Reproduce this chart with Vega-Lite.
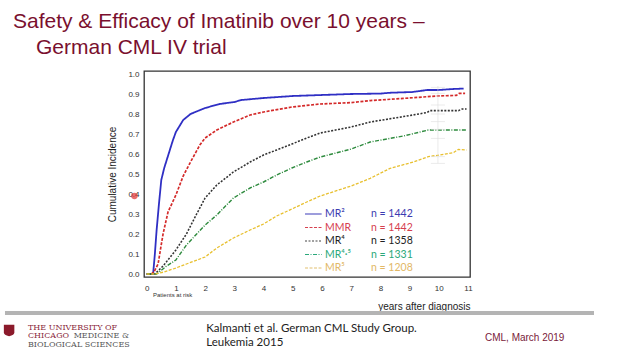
{
  "$schema": "https://vega.github.io/schema/vega-lite/v6.json",
  "width": 326,
  "height": 206,
  "autosize": "none",
  "padding": {"left": 144, "top": 71, "right": 150, "bottom": 83},
  "background": "white",
  "config": {
    "view": {"stroke": "#333333", "strokeWidth": 1.3},
    "font": "Liberation Sans",
    "text": {"font": "Liberation Sans"}
  },
  "datasets": {
    "curves": [
      {"series": "MR2", "year": 0, "value": 0}, {"series": "MR2", "year": 0.22, "value": 0}, {"series": "MR2", "year": 0.28, "value": 0.10}, {"series": "MR2", "year": 0.34, "value": 0.22}, {"series": "MR2", "year": 0.42, "value": 0.35}, {"series": "MR2", "year": 0.5, "value": 0.47}, {"series": "MR2", "year": 0.6, "value": 0.53}, {"series": "MR2", "year": 0.75, "value": 0.60}, {"series": "MR2", "year": 0.9, "value": 0.67}, {"series": "MR2", "year": 1.0, "value": 0.71}, {"series": "MR2", "year": 1.25, "value": 0.77}, {"series": "MR2", "year": 1.5, "value": 0.80}, {"series": "MR2", "year": 1.75, "value": 0.815}, {"series": "MR2", "year": 2.0, "value": 0.83}, {"series": "MR2", "year": 2.5, "value": 0.85}, {"series": "MR2", "year": 3.0, "value": 0.86}, {"series": "MR2", "year": 3.25, "value": 0.87}, {"series": "MR2", "year": 4.0, "value": 0.88}, {"series": "MR2", "year": 5.0, "value": 0.89}, {"series": "MR2", "year": 6.0, "value": 0.895}, {"series": "MR2", "year": 7.0, "value": 0.9}, {"series": "MR2", "year": 8.0, "value": 0.902}, {"series": "MR2", "year": 8.3, "value": 0.906}, {"series": "MR2", "year": 9.1, "value": 0.91}, {"series": "MR2", "year": 9.6, "value": 0.92}, {"series": "MR2", "year": 10.0, "value": 0.92}, {"series": "MR2", "year": 10.5, "value": 0.925}, {"series": "MR2", "year": 10.85, "value": 0.927},
      {"series": "MMR", "year": 0, "value": 0}, {"series": "MMR", "year": 0.16, "value": 0}, {"series": "MMR", "year": 0.25, "value": 0.01}, {"series": "MMR", "year": 0.39, "value": 0.05}, {"series": "MMR", "year": 0.56, "value": 0.20}, {"series": "MMR", "year": 0.73, "value": 0.31}, {"series": "MMR", "year": 1.0, "value": 0.395}, {"series": "MMR", "year": 1.25, "value": 0.49}, {"series": "MMR", "year": 1.5, "value": 0.56}, {"series": "MMR", "year": 1.82, "value": 0.645}, {"series": "MMR", "year": 2.0, "value": 0.68}, {"series": "MMR", "year": 2.4, "value": 0.72}, {"series": "MMR", "year": 2.97, "value": 0.76}, {"series": "MMR", "year": 3.54, "value": 0.795}, {"series": "MMR", "year": 4.0, "value": 0.81}, {"series": "MMR", "year": 4.97, "value": 0.835}, {"series": "MMR", "year": 5.94, "value": 0.85}, {"series": "MMR", "year": 7.0, "value": 0.857}, {"series": "MMR", "year": 7.65, "value": 0.867}, {"series": "MMR", "year": 8.79, "value": 0.878}, {"series": "MMR", "year": 9.93, "value": 0.89}, {"series": "MMR", "year": 10.6, "value": 0.893}, {"series": "MMR", "year": 10.7, "value": 0.903}, {"series": "MMR", "year": 10.9, "value": 0.903},
      {"series": "MR4", "year": 0, "value": 0}, {"series": "MR4", "year": 0.28, "value": 0}, {"series": "MR4", "year": 0.56, "value": 0.04}, {"series": "MR4", "year": 1.0, "value": 0.12}, {"series": "MR4", "year": 1.36, "value": 0.20}, {"series": "MR4", "year": 1.71, "value": 0.30}, {"series": "MR4", "year": 2.0, "value": 0.38}, {"series": "MR4", "year": 2.4, "value": 0.445}, {"series": "MR4", "year": 2.97, "value": 0.51}, {"series": "MR4", "year": 3.54, "value": 0.56}, {"series": "MR4", "year": 4.0, "value": 0.595}, {"series": "MR4", "year": 4.45, "value": 0.62}, {"series": "MR4", "year": 4.97, "value": 0.65}, {"series": "MR4", "year": 5.48, "value": 0.68}, {"series": "MR4", "year": 5.94, "value": 0.705}, {"series": "MR4", "year": 7.0, "value": 0.735}, {"series": "MR4", "year": 7.65, "value": 0.76}, {"series": "MR4", "year": 8.79, "value": 0.787}, {"series": "MR4", "year": 9.59, "value": 0.807}, {"series": "MR4", "year": 9.7, "value": 0.817}, {"series": "MR4", "year": 10.67, "value": 0.817}, {"series": "MR4", "year": 10.8, "value": 0.825}, {"series": "MR4", "year": 10.95, "value": 0.825},
      {"series": "MR45", "year": 0, "value": 0}, {"series": "MR45", "year": 0.34, "value": 0}, {"series": "MR45", "year": 0.68, "value": 0.04}, {"series": "MR45", "year": 1.0, "value": 0.07}, {"series": "MR45", "year": 1.36, "value": 0.145}, {"series": "MR45", "year": 1.71, "value": 0.20}, {"series": "MR45", "year": 2.0, "value": 0.245}, {"series": "MR45", "year": 2.4, "value": 0.295}, {"series": "MR45", "year": 2.97, "value": 0.38}, {"series": "MR45", "year": 3.54, "value": 0.43}, {"series": "MR45", "year": 4.0, "value": 0.46}, {"series": "MR45", "year": 4.45, "value": 0.495}, {"series": "MR45", "year": 4.97, "value": 0.53}, {"series": "MR45", "year": 5.48, "value": 0.56}, {"series": "MR45", "year": 5.94, "value": 0.585}, {"series": "MR45", "year": 7.0, "value": 0.625}, {"series": "MR45", "year": 7.65, "value": 0.66}, {"series": "MR45", "year": 8.79, "value": 0.69}, {"series": "MR45", "year": 9.64, "value": 0.72}, {"series": "MR45", "year": 10.95, "value": 0.72},
      {"series": "MR5", "year": 0, "value": 0}, {"series": "MR5", "year": 0.28, "value": 0}, {"series": "MR5", "year": 0.6, "value": 0.01}, {"series": "MR5", "year": 1.0, "value": 0.03}, {"series": "MR5", "year": 1.36, "value": 0.05}, {"series": "MR5", "year": 2.0, "value": 0.085}, {"series": "MR5", "year": 2.4, "value": 0.13}, {"series": "MR5", "year": 2.97, "value": 0.18}, {"series": "MR5", "year": 3.54, "value": 0.22}, {"series": "MR5", "year": 4.0, "value": 0.25}, {"series": "MR5", "year": 4.45, "value": 0.29}, {"series": "MR5", "year": 4.97, "value": 0.325}, {"series": "MR5", "year": 5.48, "value": 0.36}, {"series": "MR5", "year": 5.94, "value": 0.39}, {"series": "MR5", "year": 7.0, "value": 0.44}, {"series": "MR5", "year": 7.65, "value": 0.478}, {"series": "MR5", "year": 8.33, "value": 0.528}, {"series": "MR5", "year": 9.13, "value": 0.56}, {"series": "MR5", "year": 9.64, "value": 0.587}, {"series": "MR5", "year": 10.04, "value": 0.595}, {"series": "MR5", "year": 10.5, "value": 0.607}, {"series": "MR5", "year": 10.67, "value": 0.623}, {"series": "MR5", "year": 10.95, "value": 0.62}
    ],
    "legend": [
      {"series": "MR2", "label": "MR²", "n": "n = 1442"},
      {"series": "MMR", "label": "MMR", "n": "n = 1442"},
      {"series": "MR4", "label": "MR⁴", "n": "n = 1358"},
      {"series": "MR45", "label": "MR⁴·⁵", "n": "n = 1331"},
      {"series": "MR5", "label": "MR⁵", "n": "n = 1208"}
    ],
    "ci": [{"ci": 0.933}, {"ci": 0.903}, {"ci": 0.845}, {"ci": 0.8}, {"ci": 0.762}, {"ci": 0.723}, {"ci": 0.678}, {"ci": 0.587}, {"ci": 0.553}],
    "cirange": [{"lo": 0.553, "hi": 0.94}],
    "one": [{}]
  },
  "resolve": {"scale": {"color": "independent"}, "axis": {"x": "independent", "y": "independent"}},
  "layer": [
    {
      "data": {"name": "curves"},
      "mark": {"type": "line", "clip": true},
      "encoding": {
        "x": {
          "field": "year", "type": "quantitative",
          "scale": {"domain": [-0.092, 11.068], "nice": false, "zero": false},
          "axis": {
            "values": [0, 1, 2, 3, 4, 5, 6, 7, 8, 9, 10, 11], "format": "d", "labelOverlap": false,
            "ticks": false, "domain": false, "grid": false,
            "labelFontSize": 8, "labelColor": "#333333", "labelPadding": 7,
            "title": "years after diagnosis", "titleAnchor": "end", "titleFontSize": 10,
            "titleFontWeight": "normal", "titleColor": "#222222", "titlePadding": 9
          }
        },
        "y": {
          "field": "value", "type": "quantitative",
          "scale": {"domain": [-0.015, 1.015], "nice": false, "zero": false},
          "axis": {
            "values": [0, 0.1, 0.2, 0.3, 0.4, 0.5, 0.6, 0.7, 0.8, 0.9, 1.0], "format": ".1f", "labelOverlap": false,
            "ticks": false, "domain": false, "grid": false,
            "labelFontSize": 8, "labelColor": "#333333", "labelPadding": 5,
            "title": "Cumulative Incidence", "titleFontSize": 10, "titleFontWeight": "normal",
            "titleColor": "#222222", "titlePadding": 10
          }
        },
        "color": {
          "field": "series", "type": "nominal", "legend": null,
          "scale": {"domain": ["MR2", "MMR", "MR4", "MR45", "MR5"], "range": ["#2f2fc4", "#d42a2a", "#333333", "#2e8b3e", "#e8c030"]}
        },
        "strokeDash": {
          "field": "series", "type": "nominal", "legend": null,
          "scale": {"domain": ["MR2", "MMR", "MR4", "MR45", "MR5"], "range": [[1, 0], [3, 1.5], [2, 1.5], [4, 1.5, 1, 1.5], [3, 1.5]]}
        },
        "size": {
          "field": "series", "type": "nominal", "legend": null,
          "scale": {"domain": ["MR2", "MMR", "MR4", "MR45", "MR5"], "range": [1.8, 1.3, 1.2, 1.2, 1.3]}
        }
      }
    },
    {
      "data": {"name": "cirange"},
      "mark": {"type": "rule", "color": "#dddddd", "strokeWidth": 1, "opacity": 0.6},
      "encoding": {
        "x": {"datum": 9.97, "type": "quantitative", "axis": null},
        "y": {"field": "lo", "type": "quantitative", "axis": null},
        "y2": {"field": "hi"}
      }
    },
    {
      "data": {"name": "ci"},
      "mark": {"type": "rule", "color": "#dddddd", "strokeWidth": 1, "opacity": 0.6},
      "encoding": {
        "x": {"datum": 9.73, "type": "quantitative", "axis": null},
        "x2": {"datum": 10.21},
        "y": {"field": "ci", "type": "quantitative", "axis": null}
      }
    },
    {
      "data": {"name": "legend"},
      "mark": {"type": "rule", "strokeWidth": 1.2},
      "encoding": {
        "x": {"datum": 5.42, "type": "quantitative", "axis": null},
        "x2": {"datum": 5.99},
        "y": {"datum": 0.30, "type": "quantitative", "axis": null},
        "yOffset": {"field": "series", "type": "nominal", "scale": {"type": "point", "domain": ["MR2", "MMR", "MR4", "MR45", "MR5"], "range": [0, 54], "padding": 0}},
        "color": {
          "field": "series", "type": "nominal", "legend": null,
          "scale": {"domain": ["MR2", "MMR", "MR4", "MR45", "MR5"], "range": ["#3b3bb8", "#d6404f", "#444444", "#2aa87a", "#e2c070"]}
        },
        "strokeDash": {
          "field": "series", "type": "nominal", "legend": null,
          "scale": {"domain": ["MR2", "MMR", "MR4", "MR45", "MR5"], "range": [[1, 0], [2, 1.5], [2, 1], [4, 2, 1, 2], [2, 1.5]]}
        }
      }
    },
    {
      "data": {"name": "legend"},
      "mark": {"type": "text", "align": "left", "baseline": "middle", "fontSize": 10.5, "font": "Lato"},
      "encoding": {
        "x": {"datum": 6.1, "type": "quantitative", "axis": null},
        "y": {"datum": 0.30, "type": "quantitative", "axis": null},
        "yOffset": {"field": "series", "type": "nominal", "scale": {"type": "point", "domain": ["MR2", "MMR", "MR4", "MR45", "MR5"], "range": [0, 54], "padding": 0}},
        "text": {"field": "label"},
        "color": {
          "field": "series", "type": "nominal", "legend": null,
          "scale": {"domain": ["MR2", "MMR", "MR4", "MR45", "MR5"], "range": ["#3b3bb0", "#d6404f", "#222222", "#2aa87a", "#e2b866"]}
        }
      }
    },
    {
      "data": {"name": "legend"},
      "mark": {"type": "text", "align": "left", "baseline": "middle", "fontSize": 10.5, "font": "Lato"},
      "encoding": {
        "x": {"datum": 7.68, "type": "quantitative", "axis": null},
        "y": {"datum": 0.30, "type": "quantitative", "axis": null},
        "yOffset": {"field": "series", "type": "nominal", "scale": {"type": "point", "domain": ["MR2", "MMR", "MR4", "MR45", "MR5"], "range": [0, 54], "padding": 0}},
        "text": {"field": "n"},
        "color": {
          "field": "series", "type": "nominal", "legend": null,
          "scale": {"domain": ["MR2", "MMR", "MR4", "MR45", "MR5"], "range": ["#3b3bb0", "#d6404f", "#222222", "#2aa87a", "#e2b866"]}
        }
      }
    },
    {
      "data": {"name": "one"},
      "mark": {"type": "text", "text": "Safety & Efficacy of Imatinib over 10 years –", "align": "left", "baseline": "alphabetic", "fontSize": 21, "color": "#7a0f2e"},
      "encoding": {"x": {"datum": -4.577, "type": "quantitative", "axis": null}, "y": {"datum": 1.2285, "type": "quantitative", "axis": null}}
    },
    {
      "data": {"name": "one"},
      "mark": {"type": "text", "text": "German CML IV trial", "align": "left", "baseline": "alphabetic", "fontSize": 21, "color": "#7a0f2e"},
      "encoding": {"x": {"datum": -3.79, "type": "quantitative", "axis": null}, "y": {"datum": 1.0985, "type": "quantitative", "axis": null}}
    },
    {
      "data": {"name": "one"},
      "mark": {"type": "text", "text": "Patients at risk", "align": "left", "baseline": "middle", "fontSize": 6, "color": "#333333"},
      "encoding": {"x": {"datum": 0.216, "type": "quantitative", "axis": null}, "y": {"datum": -0.105, "type": "quantitative", "axis": null}}
    },
    {
      "data": {"name": "one"},
      "mark": {"type": "point", "filled": true, "color": "#e03030", "opacity": 0.7, "size": 40},
      "encoding": {"x": {"datum": -0.42, "type": "quantitative", "axis": null}, "y": {"datum": 0.39, "type": "quantitative", "axis": null}}
    },
    {
      "data": {"name": "one"},
      "mark": {"type": "rule", "color": "#b4b4b4", "strokeWidth": 4},
      "encoding": {"x": {"datum": -4.851, "type": "quantitative", "axis": null}, "x2": {"datum": 15.313}, "y": {"datum": -0.195, "type": "quantitative", "axis": null}}
    },
    {
      "data": {"name": "one"},
      "mark": {"type": "point", "filled": true, "color": "#8b1a2b", "opacity": 1, "size": 110, "shape": "M-1,-1.1L1,-1.1L1,0.4Q1,0.9 0,1.1Q-1,0.9 -1,0.4Z"},
      "encoding": {"x": {"datum": -4.71, "type": "quantitative", "axis": null}, "y": {"datum": -0.2825, "type": "quantitative", "axis": null}}
    },
    {
      "data": {"name": "one"},
      "mark": {"type": "text", "text": "THE UNIVERSITY OF", "align": "left", "baseline": "middle", "fontSize": 8, "font": "DejaVu Serif", "color": "#8a1f3a"},
      "encoding": {"x": {"datum": -4.064, "type": "quantitative", "axis": null}, "y": {"datum": -0.2675, "type": "quantitative", "axis": null}}
    },
    {
      "data": {"name": "one"},
      "mark": {"type": "text", "text": "CHICAGO", "align": "left", "baseline": "middle", "fontSize": 8, "font": "DejaVu Serif", "color": "#8a1f3a"},
      "encoding": {"x": {"datum": -4.064, "type": "quantitative", "axis": null}, "y": {"datum": -0.31, "type": "quantitative", "axis": null}}
    },
    {
      "data": {"name": "one"},
      "mark": {"type": "text", "text": "MEDICINE &", "align": "left", "baseline": "middle", "fontSize": 8, "font": "DejaVu Serif", "color": "#555555"},
      "encoding": {"x": {"datum": -2.5, "type": "quantitative", "axis": null}, "y": {"datum": -0.31, "type": "quantitative", "axis": null}}
    },
    {
      "data": {"name": "one"},
      "mark": {"type": "text", "text": "BIOLOGICAL SCIENCES", "align": "left", "baseline": "middle", "fontSize": 8, "font": "DejaVu Serif", "color": "#555555"},
      "encoding": {"x": {"datum": -4.064, "type": "quantitative", "axis": null}, "y": {"datum": -0.355, "type": "quantitative", "axis": null}}
    },
    {
      "data": {"name": "one"},
      "mark": {"type": "text", "text": "Kalmanti et al. German CML Study Group.", "align": "left", "baseline": "middle", "fontSize": 11.5, "font": "Lato", "color": "#222222"},
      "encoding": {"x": {"datum": 2.037, "type": "quantitative", "axis": null}, "y": {"datum": -0.275, "type": "quantitative", "axis": null}}
    },
    {
      "data": {"name": "one"},
      "mark": {"type": "text", "text": "Leukemia 2015", "align": "left", "baseline": "middle", "fontSize": 11.5, "font": "Lato", "color": "#222222"},
      "encoding": {"x": {"datum": 2.037, "type": "quantitative", "axis": null}, "y": {"datum": -0.345, "type": "quantitative", "axis": null}}
    },
    {
      "data": {"name": "one"},
      "mark": {"type": "text", "text": "CML,  March 2019", "align": "left", "baseline": "middle", "fontSize": 10, "color": "#7a1a3a"},
      "encoding": {"x": {"datum": 11.58, "type": "quantitative", "axis": null}, "y": {"datum": -0.3185, "type": "quantitative", "axis": null}}
    }
  ]
}
